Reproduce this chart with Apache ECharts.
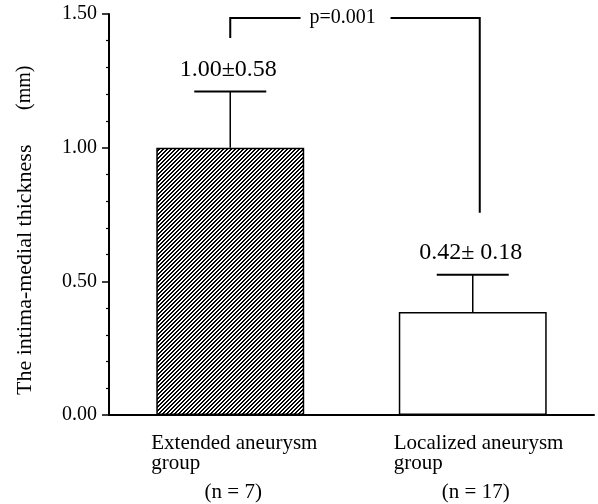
<!DOCTYPE html>
<html><head><meta charset="utf-8">
<script src="https://cdn.jsdelivr.net/npm/echarts@6/dist/echarts.min.js"></script>
<style>html,body{margin:0;padding:0;background:#fff}#c{width:598px;height:504px}</style>
</head><body><div id="c"></div>
<script>
// ---- data ----
const categories = ['Extended aneurysm', 'Localized aneurysm'];
const subLabels = ['group', 'group'];
const nLabels = ['(n = 7)', '(n = 17)'];
const means = [1.00, 0.385];
const errorTops = [1.21, 0.525];
const valueLabels = ['1.00\u00b10.58', '0.42\u00b1 0.18'];
const pLabel = 'p=0.001';
const bracketTop = 1.485;
const bracketLeftBottom = 1.41;
const bracketRightBottom = 0.757;
const yTitle = 'The intima-medial thickness';
const yUnit = '(mm)';

const FONT = '"Liberation Serif", "Times New Roman", serif';

// hatch pattern
const tile = document.createElement('canvas');
tile.width = 4; tile.height = 4;
const tctx = tile.getContext('2d');
tctx.fillStyle = '#fff'; tctx.fillRect(0, 0, 4, 4);
tctx.fillStyle = '#000';
for (let i = 0; i < 4; i++) {
  tctx.fillRect(i, 3 - i, 1, 1);
  tctx.fillRect(i, (4 - i) % 4, 1, 1);
}
const hatch = { image: tile, repeat: 'repeat' };

const chart = echarts.init(document.getElementById('c'), null, { renderer: 'canvas' });

const option = {
  animation: false,
  backgroundColor: '#fff',
  grid: { left: 109, right: 4, top: 14, bottom: 89 },
  xAxis: {
    type: 'category',
    data: categories,
    axisLine: { lineStyle: { color: '#000', width: 2 } },
    axisTick: { show: false },
    axisLabel: { show: false },
    splitLine: { show: false }
  },
  yAxis: {
    type: 'value',
    min: 0, max: 1.5, interval: 0.5,
    axisLine: { show: true, lineStyle: { color: '#000', width: 2 } },
    axisTick: { show: true, inside: false, length: 7, lineStyle: { color: '#000', width: 1.5 } },
    minorTick: { show: true, splitNumber: 5, length: 3, lineStyle: { color: '#000', width: 1.2 } },
    axisLabel: { formatter: v => v.toFixed(2), color: '#000', fontFamily: FONT, fontSize: 20, margin: 12 },
    splitLine: { show: false },
    minorSplitLine: { show: false }
  },
  graphic: [
    { type: 'text', x: 25, y: 395, rotation: Math.PI / 2,
      style: { text: yTitle, font: '22px ' + FONT, fill: '#000', textAlign: 'left', textVerticalAlign: 'middle' } },
    { type: 'text', x: 25, y: 110, rotation: Math.PI / 2,
      style: { text: yUnit, font: '20px ' + FONT, fill: '#000', textAlign: 'left', textVerticalAlign: 'middle' } }
  ],
  series: [
    {
      type: 'bar',
      barWidth: '61%',
      data: means.map((v, i) => ({ value: v, itemStyle: { color: i === 0 ? hatch : '#fff' } })),
      itemStyle: { borderColor: '#000', borderWidth: 1.5 },
      z: 2
    },
    {
      type: 'custom',
      clip: false,
      data: means.map((m, i) => [i, m, errorTops[i]]),
      renderItem(params, api) {
        const i = api.value(0);
        const base = api.coord([i, api.value(1)]);
        const top = api.coord([i, api.value(2)]);
        const axisPt = api.coord([i, 0]);
        const half = 36;
        const txt = (t, x, y, align) => ({ type: 'text', x, y,
          style: { text: t, font: '21px ' + FONT, fill: '#000', textAlign: align, textVerticalAlign: 'middle' } });
        return { type: 'group', children: [
          { type: 'line', shape: { x1: base[0], y1: base[1], x2: top[0], y2: top[1] }, style: { stroke: '#000', lineWidth: 1.5 } },
          { type: 'line', shape: { x1: top[0] - half, y1: top[1], x2: top[0] + half, y2: top[1] }, style: { stroke: '#000', lineWidth: 2 } },
          { type: 'text', x: top[0] - 2, y: top[1] - 22,
            style: { text: valueLabels[i], font: '24px ' + FONT, fill: '#000', textAlign: 'center', textVerticalAlign: 'middle' } },
          txt(categories[i], axisPt[0] - 79, axisPt[1] + 28, 'left'),
          txt(subLabels[i], axisPt[0] - 79, axisPt[1] + 48, 'left'),
          txt(nLabels[i], axisPt[0] + 3, axisPt[1] + 77, 'center')
        ] };
      },
      z: 3
    },
    {
      type: 'custom',
      clip: false,
      data: [[0, 1, bracketTop, bracketLeftBottom, bracketRightBottom]],
      renderItem(params, api) {
        const a = api.coord([api.value(0), api.value(3)]);
        const at = api.coord([api.value(0), api.value(2)]);
        const bt = api.coord([api.value(1), api.value(2)]);
        const bb = api.coord([api.value(1), api.value(4)]);
        const x0 = at[0], x1 = bt[0] + 7, y = at[1];
        const tc = x0 + (x1 - x0) * 0.45;
        const st = { stroke: '#000', lineWidth: 2 };
        return { type: 'group', children: [
          { type: 'polyline', shape: { points: [[x0, a[1]], [x0, y], [tc - 42, y]] }, style: Object.assign({ fill: null }, st) },
          { type: 'polyline', shape: { points: [[tc + 48, y], [x1, y], [x1, bb[1]]] }, style: Object.assign({ fill: null }, st) },
          { type: 'text', x: tc, y: y,
            style: { text: pLabel, font: '20px ' + FONT, fill: '#000', textAlign: 'center', textVerticalAlign: 'middle' } }
        ] };
      },
      z: 3
    }
  ]
};
chart.setOption(option);
</script>
</body></html>
